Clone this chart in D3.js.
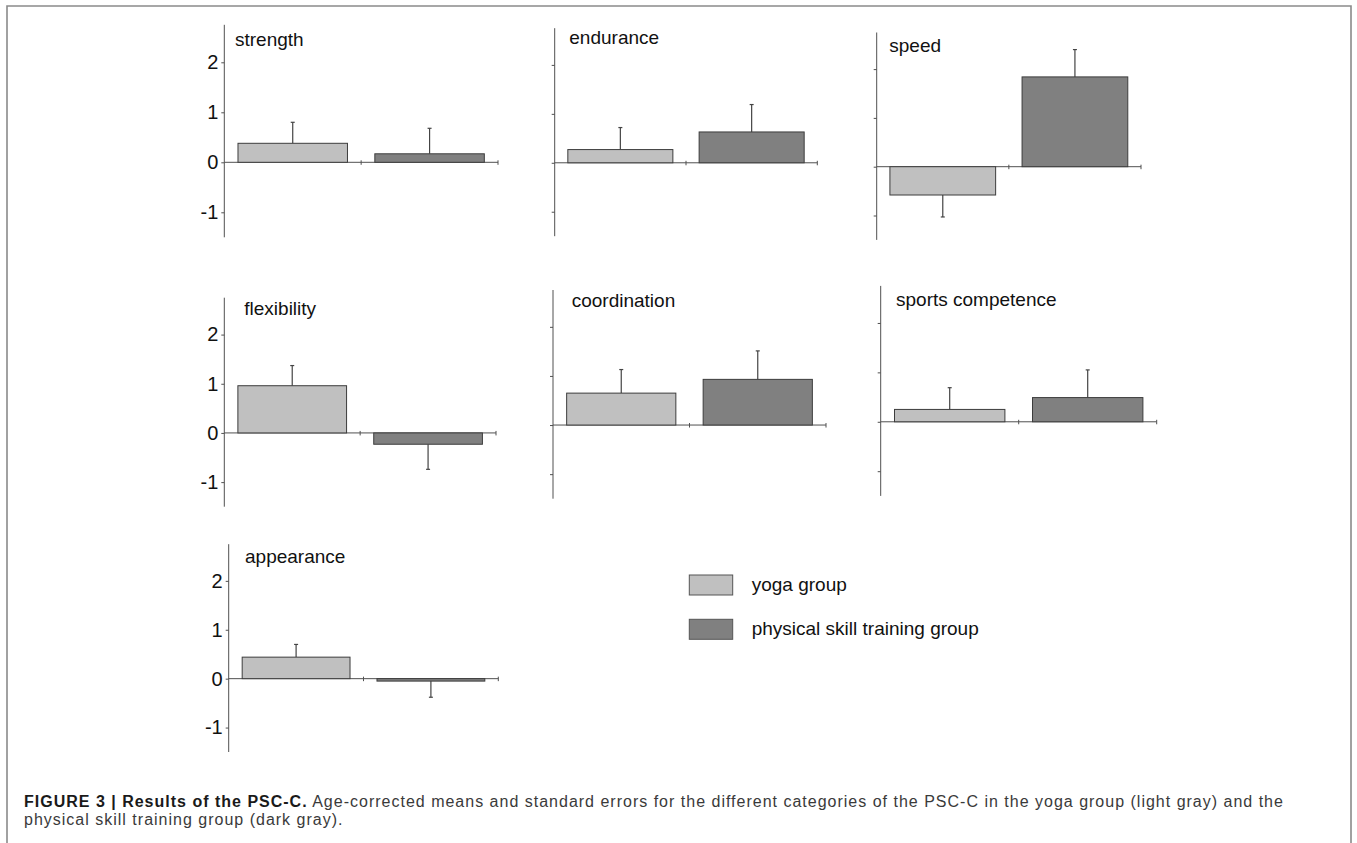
<!DOCTYPE html>
<html>
<head>
<meta charset="utf-8">
<script src="https://cdn.jsdelivr.net/npm/d3@7"></script>
<style>
  html, body { margin: 0; padding: 0; background: #fff; }
  svg { display: block; }
</style>
</head>
<body>
<svg id="chart" width="1357" height="843"></svg>
<script>
// ---------------- DATA ----------------
const categories = ["strength", "endurance", "speed", "flexibility", "coordination", "sports competence", "appearance"];
const groups = ["yoga group", "physical skill training group"];
const yogaMeans = [0.38, 0.27, -0.58, 0.96, 0.65, 0.25, 0.44];
const yogaSE    = [0.42, 0.45, 0.45, 0.41, 0.48, 0.44, 0.26];
const pstMeans  = [0.17, 0.63, 1.84, -0.23, 0.93, 0.49, -0.05];
const pstSE     = [0.51, 0.56, 0.56, 0.51, 0.58, 0.56, 0.33];
const yTicks = [-1, 0, 1, 2];
const yDomain = [-1.5, 2.75];
const captionBold = "FIGURE 3 | Results of the PSC-C.";
const captionLine1 = " Age-corrected means and standard errors for the different categories of the PSC-C in the yoga group (light gray) and the";
const captionLine2 = "physical skill training group (dark gray).";

// ---------------- LAYOUT ----------------
const panels = [
  { left: 224.3, top: 24.8,  width: 273.7, height: 212.5, tx: 235,   ty: 46,    labels: true },
  { left: 554.7, top: 28.2,  width: 262.6, height: 208.0, tx: 569.3, ty: 44,    labels: false },
  { left: 876.7, top: 32.5,  width: 264.3, height: 207.4, tx: 889.3, ty: 51.7,  labels: false },
  { left: 224.3, top: 297.7, width: 271.7, height: 209.0, tx: 244.3, ty: 315,   labels: true },
  { left: 553.0, top: 290.0, width: 273.0, height: 208.7, tx: 571.7, ty: 306.7, labels: false },
  { left: 880.7, top: 285.9, width: 276.0, height: 210.0, tx: 896,   ty: 306,   labels: false },
  { left: 228.7, top: 544.2, width: 269.6, height: 207.8, tx: 245,   ty: 562.7, labels: true }
];
const colors = ["#c0c0c0", "#808080"];
const barStroke = "#3c3c3c";
const axisColor = "#505050";
const font = "'Liberation Sans', Arial, Helvetica, sans-serif";

const svg = d3.select("#chart");

// frame
svg.append("path")
  .attr("d", "M7,843 L7,6 L1351,6 L1351,843")
  .attr("fill", "none").attr("stroke", "#8a8a8a").attr("stroke-width", 1.6);

categories.forEach((cat, i) => {
  const p = panels[i];
  const g = svg.append("g");
  const y = d3.scaleLinear().domain(yDomain).range([p.top + p.height, p.top]);
  const x = d3.scaleBand().domain(groups).range([p.left, p.left + p.width])
    .paddingInner(0.2).paddingOuter(0.1);
  const y0 = y(0);

  // y axis
  const yAxis = d3.axisLeft(y).tickValues(yTicks).tickSize(3).tickPadding(3)
    .tickFormat(p.labels ? d3.format("d") : () => "");
  const ya = g.append("g").attr("transform", `translate(${p.left},0)`).call(yAxis);
  ya.select(".domain").attr("d", `M0,${p.top}V${p.top + p.height}`).attr("stroke", axisColor);
  ya.selectAll(".tick line").attr("stroke", axisColor);
  ya.selectAll(".tick text").attr("font-family", font).attr("font-size", 20).attr("fill", "#111")
    .text(d => p.labels ? (d < 0 ? "-" + Math.abs(d) : String(d)) : "");

  // x axis at zero
  g.append("line").attr("x1", p.left).attr("x2", p.left + p.width)
    .attr("y1", y0).attr("y2", y0).attr("stroke", axisColor).attr("stroke-width", 1);
  // x ticks at band boundaries
  const boundaries = [p.left + p.width / 2, p.left + p.width];
  g.selectAll(".xt").data(boundaries).enter().append("line")
    .attr("x1", d => d).attr("x2", d => d)
    .attr("y1", y0 - 2).attr("y2", y0 + 2.5)
    .attr("stroke", axisColor).attr("stroke-width", 1);

  const means = [yogaMeans[i], pstMeans[i]];
  const ses = [yogaSE[i], pstSE[i]];
  const rows = groups.map((grp, k) => ({ grp, m: means[k], se: ses[k], c: colors[k] }));

  // error bars
  rows.forEach(r => {
    const cx = x(r.grp) + x.bandwidth() / 2;
    const end = r.m >= 0 ? r.m + r.se : r.m - r.se;
    g.append("line").attr("x1", cx).attr("x2", cx)
      .attr("y1", y(r.m)).attr("y2", y(end))
      .attr("stroke", "#444").attr("stroke-width", 1.2);
    g.append("line").attr("x1", cx - 2).attr("x2", cx + 2)
      .attr("y1", y(end)).attr("y2", y(end))
      .attr("stroke", "#444").attr("stroke-width", 1.2);
  });

  // bars
  g.selectAll(".bar").data(rows).enter().append("rect")
    .attr("x", d => x(d.grp))
    .attr("width", x.bandwidth())
    .attr("y", d => Math.min(y(d.m), y0))
    .attr("height", d => Math.abs(y(d.m) - y0))
    .attr("fill", d => d.c)
    .attr("stroke", barStroke).attr("stroke-width", 1);

  // title
  g.append("text").attr("x", p.tx).attr("y", p.ty)
    .attr("font-family", font).attr("font-size", 19).attr("fill", "#111").text(cat);
});

// legend
const legendRows = [{ y: 575, ty: 590.7 }, { y: 619.3, ty: 635 }];
groups.forEach((grp, k) => {
  svg.append("rect").attr("x", 689.3).attr("y", legendRows[k].y)
    .attr("width", 43.4).attr("height", 20)
    .attr("fill", colors[k]).attr("stroke", "#555").attr("stroke-width", 1);
  svg.append("text").attr("x", 751.7).attr("y", legendRows[k].ty)
    .attr("font-family", font).attr("font-size", 19).attr("fill", "#111").text(grp);
});

// caption
const capFont = "'Liberation Sans', Arial, Helvetica, sans-serif";
const capSize = 16;
const cap1 = svg.append("text").attr("x", 24).attr("y", 806.5)
  .attr("font-family", capFont).attr("font-size", capSize);
cap1.append("tspan").attr("font-weight", "bold").attr("fill", "#1a1a1a").text(captionBold);
cap1.append("tspan").attr("fill", "#3a3a3a").text(captionLine1);
// small letter-spacing adjustment so line 1 spans the same width as in the reference
const w = cap1.node().getComputedTextLength();
const nChars = (captionBold + captionLine1).length;
const ls = Math.max(-0.6, Math.min(1, (1262 - w) / (nChars - 1)));
cap1.attr("letter-spacing", ls);
svg.append("text").attr("x", 24).attr("y", 825)
  .attr("font-family", capFont).attr("font-size", capSize).attr("letter-spacing", ls)
  .attr("fill", "#3a3a3a").text(captionLine2);
</script>
</body>
</html>
